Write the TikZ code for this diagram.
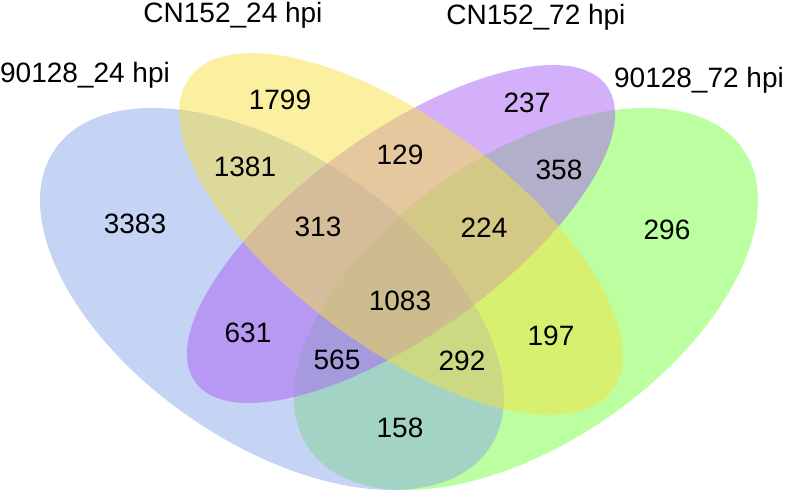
\documentclass[tikz,border=0pt]{standalone}
\usepackage{fontspec}
\setmainfont{Liberation Sans}
\definecolor{setblue}{RGB}{139,167,235}
\definecolor{setyellow}{RGB}{245,225,65}
\definecolor{setpurple}{RGB}{171,97,245}
\definecolor{setgreen}{RGB}{119,255,65}

\begin{document}
\begin{tikzpicture}[x=1pt,y=-1pt,
  setfill/.style={fill=#1, fill opacity=0.5},
  count/.style={font=\fontsize{28}{33}\selectfont},
  setname/.style={font=\fontsize{28}{33}\selectfont}]
  \useasboundingbox (0,0) rectangle (789,493);

  % 集合の楕円
  \fill[setfill=setgreen, rotate around={34.6:(526,299)}] (526,299) ellipse [x radius=263.7pt, y radius=144pt];
  \fill[setfill=setblue, rotate around={-34.6:(272,299)}] (272,299) ellipse [x radius=263.7pt, y radius=144pt];
  \fill[setfill=setpurple, rotate around={35.7:(401,234)}] (401,234) ellipse [x radius=253.5pt, y radius=100.5pt];
  \fill[setfill=setyellow, rotate around={-36.5:(401,234)}] (401,234) ellipse [x radius=263pt, y radius=113pt];

  % 集合名
  \node[setname] (nameA) at (85,75) {90128\_24 hpi};
  \node[setname] (nameB) at (233,15) {CN152\_24 hpi};
  \node[setname] (nameC) at (536,17) {CN152\_72 hpi};
  \node[setname] (nameD) at (699,80) {90128\_72 hpi};

  % 要素数
  \node[count] (a) at (135,224) {3383};
  \node[count] (b) at (280,100) {1799};
  \node[count] (c) at (527,103) {237};
  \node[count] (d) at (667,230) {296};
  \node[count] (ab) at (245,167) {1381};
  \node[count] (bc) at (400,155) {129};
  \node[count] (cd) at (559,170) {358};
  \node[count] (abc) at (318,227) {313};
  \node[count] (bcd) at (484,228) {224};
  \node[count] (abcd) at (400,301) {1083};
  \node[count] (ac) at (248,333) {631};
  \node[count] (acd) at (337,360) {565};
  \node[count] (abd) at (462,361) {292};
  \node[count] (bd) at (551,336) {197};
  \node[count] (ad) at (400,428) {158};
\end{tikzpicture}
\end{document}
